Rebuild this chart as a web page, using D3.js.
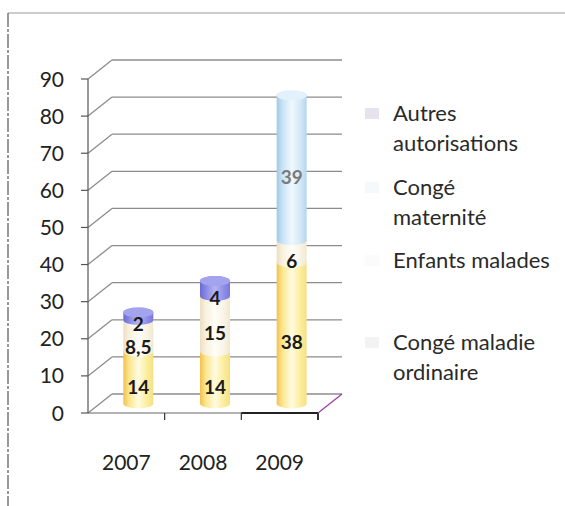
<!DOCTYPE html>
<html>
<head>
<meta charset="utf-8">
<script src="https://cdn.jsdelivr.net/npm/d3@7"></script>
<style>
  html, body { margin: 0; padding: 0; background: #fff; }
  svg { display: block; font-family: Lato, "Open Sans", sans-serif; }
</style>
</head>
<body>
<svg id="chart" width="565" height="506"></svg>
<script>
// Absences par année (jours)
const years = ["2007", "2008", "2009"];
const congeMaladie = [14, 14, 38];
const enfantsMalades = [8.5, 15, 6];
const congeMaternite = [0, 0, 39];
const autresAutorisations = [2, 4, 0];
const yTicks = [0, 10, 20, 30, 40, 50, 60, 70, 80, 90];

// Stacking order, bottom to top
const seriesNames = ["Congé maladie ordinaire", "Enfants malades", "Congé maternité", "Autres autorisations"];
const seriesValues = [congeMaladie, enfantsMalades, congeMaternite, autresAutorisations];

const svg = d3.select("#chart");
const fr = d3.formatLocale({ decimal: ",", thousands: " ", grouping: [3], currency: ["", " €"] });
const fmt = v => fr.format(",~r")(v);

// Plot frame (front plane) and 3D depth offset
const plotLeft = 88, plotRight = 318, plotBottom = 413, plotTop = 79;
const DX = 24, DY = -19;

const x = d3.scaleBand().domain(years).range([plotLeft, plotRight]);
const y = d3.scaleLinear().domain([0, 90]).range([plotBottom, plotTop]);

// Outer frame of the chart area
svg.append("line").attr("x1", 8).attr("y1", 13).attr("x2", 565).attr("y2", 13)
  .attr("stroke", "#9a9a9a").attr("stroke-width", 1.2);
svg.append("line").attr("x1", 8).attr("y1", 13).attr("x2", 8).attr("y2", 506)
  .attr("stroke", "#555").attr("stroke-width", 1.2).attr("stroke-dasharray", "14,2,3,2");

// Walls: back-wall gridlines plus side-wall diagonals
const grid = svg.append("g").attr("stroke", "#8c8c8c").attr("stroke-width", 1.3).attr("fill", "none");
yTicks.forEach(t => {
  grid.append("line")
    .attr("x1", plotLeft).attr("y1", y(t)).attr("x2", plotLeft + DX).attr("y2", y(t) + DY);
  grid.append("line")
    .attr("x1", plotLeft + DX).attr("y1", y(t) + DY).attr("x2", plotRight + DX).attr("y2", y(t) + DY);
});
// Floor right edge
grid.append("line").attr("x1", plotRight).attr("y1", y(0)).attr("x2", plotRight + DX).attr("y2", y(0) + DY)
  .attr("stroke", "#a040a0");

// Vertical axis with ticks
const axisG = svg.append("g");
axisG.append("line").attr("x1", plotLeft).attr("y1", y(90)).attr("x2", plotLeft).attr("y2", y(0))
  .attr("stroke", "#555").attr("stroke-width", 1.2);
yTicks.forEach(t => {
  axisG.append("line").attr("x1", plotLeft - 7).attr("x2", plotLeft).attr("y1", y(t)).attr("y2", y(t))
    .attr("stroke", "#555").attr("stroke-width", 1.2);
  axisG.append("text").attr("x", 64).attr("y", y(t)).attr("dy", "0.36em")
    .attr("text-anchor", "end").attr("font-size", 21).attr("fill", "#222").text(t);
});

// Front floor edge with category ticks
axisG.append("line").attr("x1", plotLeft).attr("y1", y(0)).attr("x2", plotRight).attr("y2", y(0))
  .attr("stroke", "#666").attr("stroke-width", 1.2);
axisG.append("line").attr("x1", x("2009")).attr("y1", y(0)).attr("x2", plotRight).attr("y2", y(0))
  .attr("stroke", "#222").attr("stroke-width", 2.2);
years.forEach((yr, i) => {
  const bx = x(yr) + x.bandwidth();
  axisG.append("line").attr("x1", bx).attr("x2", bx).attr("y1", y(0)).attr("y2", y(0) + 7)
    .attr("stroke", "#333").attr("stroke-width", i === 2 ? 2 : 1.2);
  axisG.append("text").attr("x", x(yr) + x.bandwidth() / 2).attr("y", 470)
    .attr("text-anchor", "middle").attr("font-size", 21).attr("fill", "#222").text(yr);
});

// Cylinder gradients per series
const palettes = [
  ["#f2c04f", "#fbe58a", "#fffbe2", "#fcee9e", "#f6df85"],
  ["#ecdfc0", "#f7f0dc", "#fffef9", "#f9f4e6", "#f1e8cf"],
  ["#9fc8e6", "#c6e1f4", "#f0f8fe", "#d4eaf8", "#b4d6ee"],
  ["#6a6ad6", "#8686e4", "#b4b4f2", "#9090e8", "#7878dc"]
];
const defs = svg.append("defs");
palettes.forEach((p, i) => {
  const g = defs.append("linearGradient").attr("id", "cyl" + i)
    .attr("x1", "0%").attr("x2", "100%").attr("y1", "0%").attr("y2", "0%");
  [0, 0.18, 0.5, 0.78, 1].forEach((o, k) => g.append("stop").attr("offset", o).attr("stop-color", p[k]));
});
const topColors = ["#fdf3c0", "#fdfaf0", "#e2f1fc", "#a3a3ee"];
const labelColors = ["#1a1a1a", "#1a1a1a", "#7a7a7a", "#1a1a1a"];

// Stacked cylinders, drawn at mid depth
const r = 15, ry = 5;
const stack = years.map((yr, i) => {
  let acc = 0;
  return seriesValues.map((vals, s) => {
    const v0 = acc; acc += vals[i];
    return { year: yr, s, v0, v1: acc, value: vals[i] };
  });
});

const bars = svg.append("g");
stack.forEach(col => {
  const segs = col.filter(d => d.value > 0);
  segs.forEach((d, k) => {
    const cx = x(d.year) + x.bandwidth() / 2 + DX / 2;
    const yb = y(d.v0) + DY / 2, yt = y(d.v1) + DY / 2;
    const path = `M${cx - r},${yt} L${cx - r},${yb} A${r},${ry} 0 0 0 ${cx + r},${yb} ` +
                 `L${cx + r},${yt} A${r},${ry} 0 0 0 ${cx - r},${yt} Z`;
    bars.append("path").attr("d", path).attr("fill", `url(#cyl${d.s})`);
    if (k === segs.length - 1) {
      bars.append("ellipse").attr("cx", cx).attr("cy", yt).attr("rx", r).attr("ry", ry)
        .attr("fill", topColors[d.s]);
    }
  });
});

// Value labels, centred on each segment; a label too close to the one
// below it is lifted so the two stay readable
const minGap = 23;
const labels = svg.append("g").attr("text-anchor", "middle").attr("font-size", 19).attr("font-weight", 700);
stack.forEach(col => {
  let prevY = Infinity;
  col.filter(d => d.value > 0).forEach(d => {
    let ly = y((d.v0 + d.v1) / 2);
    if (prevY - ly < minGap) {
      const shift = (minGap - (prevY - ly)) / 2;
      ly -= shift;
      labels.select("text:last-child").attr("y", prevY + shift);
    }
    prevY = ly;
    labels.append("text")
      .attr("x", x(d.year) + x.bandwidth() / 2 + DX / 2)
      .attr("y", ly).attr("dy", "0.36em")
      .attr("fill", labelColors[d.s]).text(fmt(d.value));
  });
});

// Legend (top series first)
const legendItems = [
  { s: 3, lines: ["Autres", "autorisations"], y0: 121 },
  { s: 2, lines: ["Congé", "maternité"], y0: 195 },
  { s: 1, lines: ["Enfants malades"], y0: 268 },
  { s: 0, lines: ["Congé maladie", "ordinaire"], y0: 350 }
];
const markerColors = ["#f3f3f3", "#fbfbfb", "#f6f9fc", "#e6e2ee"];
const legend = svg.append("g");
legendItems.forEach(it => {
  legend.append("rect").attr("x", 365).attr("y", it.y0 - 13).attr("width", 14).attr("height", 11)
    .attr("fill", markerColors[it.s]);
  it.lines.forEach((ln, j) => {
    legend.append("text").attr("x", 393).attr("y", it.y0 + j * 30)
      .attr("font-size", 22).attr("fill", "#2a2a2a").text(ln);
  });
});
</script>
</body>
</html>
